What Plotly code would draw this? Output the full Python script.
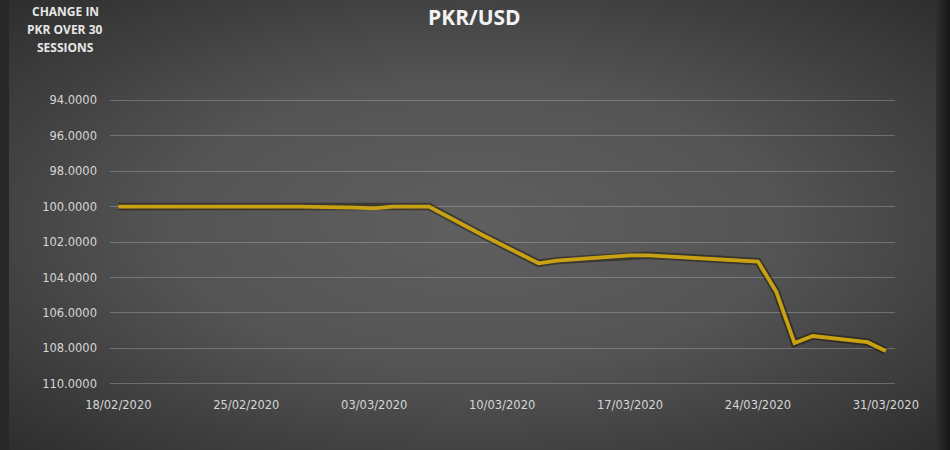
import base64
import plotly.graph_objects as go

# ---- data ----
session_dates = [
    "2020-02-18", "2020-02-19", "2020-02-20", "2020-02-21",
    "2020-02-24", "2020-02-25", "2020-02-26", "2020-02-27", "2020-02-28",
    "2020-03-02", "2020-03-03", "2020-03-04", "2020-03-05", "2020-03-06",
    "2020-03-09", "2020-03-10", "2020-03-11", "2020-03-12", "2020-03-13",
    "2020-03-16", "2020-03-17", "2020-03-18", "2020-03-19", "2020-03-20",
    "2020-03-24", "2020-03-25", "2020-03-26", "2020-03-27",
    "2020-03-30", "2020-03-31",
]
pkr_index = [
    100.00, 100.00, 100.00, 100.00,
    100.00, 100.00, 100.00, 100.00, 100.01,
    100.06, 100.10, 100.00, 100.00, 100.00,
    101.65, 102.15, 102.70, 103.20, 103.05,
    102.85, 102.75, 102.75, 102.80, 102.85,
    103.10, 104.80, 107.70, 107.30,
    107.65, 108.15,
]
x_tick_dates = ["2020-02-18", "2020-02-25", "2020-03-03", "2020-03-10",
                "2020-03-17", "2020-03-24", "2020-03-31"]
y_tick_values = [94, 96, 98, 100, 102, 104, 106, 108, 110]

title_text = "PKR/USD"
side_lines = ["CHANGE IN", "PKR OVER 30", "SESSIONS"]

# ---- layout geometry ----
W, H = 950, 450
ML, MR, MT, MB = 110, 55, 98, 64
PW, PH = W - ML - MR, H - MT - MB


def px_x(x):
    return (x - ML) / PW


def px_y(y):
    return (H - MB - y) / PH


svg = f'''<svg xmlns="http://www.w3.org/2000/svg" width="{W}" height="{H}" viewBox="0 0 {W} {H}" preserveAspectRatio="none">
<defs>
<radialGradient id="g" cx="50%" cy="50%" r="72%">
<stop offset="0" stop-color="#5f5f5f"/>
<stop offset="0.45" stop-color="#545454"/>
<stop offset="1" stop-color="#2c2c2c"/>
</radialGradient>
<linearGradient id="rr" x1="0" x2="1" y1="0" y2="0">
<stop offset="0" stop-color="#2e2e2e"/>
<stop offset="1" stop-color="#161616"/>
</linearGradient>
</defs>
<rect width="{W}" height="{H}" fill="url(#g)"/>
<rect x="0" y="0" width="9" height="{H}" fill="#282828"/>
<rect x="936" y="0" width="14" height="{H}" fill="url(#rr)"/>
</svg>'''
bg_src = "data:image/svg+xml;base64," + base64.b64encode(svg.encode()).decode()

fig = go.Figure()

# shadow under the line
fig.add_trace(go.Scatter(
    x=session_dates, y=pkr_index, mode="lines",
    line=dict(color="rgba(20,15,0,0.45)", width=7.5),
    hoverinfo="skip", showlegend=False,
))
fig.add_trace(go.Scatter(
    x=session_dates, y=pkr_index, mode="lines",
    line=dict(color="#c9a213", width=3.8),
    showlegend=False, name="PKR/USD",
))

annotations = [
    dict(text=f"<b>{title_text}</b>", xref="paper", yref="paper",
         x=px_x(474), y=px_y(1), xanchor="center", yanchor="top",
         showarrow=False,
         font=dict(family="Open Sans", size=21, color="#f2f2f2")),
]
for i, line in enumerate(side_lines):
    annotations.append(dict(
        text=f"<b>{line}</b>", xref="paper", yref="paper",
        x=px_x(65), y=px_y(11 + 18.5 * i), xanchor="center", yanchor="middle",
        showarrow=False,
        font=dict(family="Open Sans", size=12, color="#e6e6e6")))

fig.update_layout(
    width=W, height=H,
    margin=dict(l=ML, r=MR, t=MT, b=MB, pad=0),
    paper_bgcolor="rgba(0,0,0,0)",
    plot_bgcolor="rgba(0,0,0,0)",
    font=dict(family="DejaVu Sans", color="#d6d6d6", size=11),
    images=[dict(
        source=bg_src, xref="paper", yref="paper",
        x=px_x(0), y=px_y(0), sizex=W / PW, sizey=H / PH,
        xanchor="left", yanchor="top", sizing="stretch", layer="below",
    )],
    xaxis=dict(
        type="date",
        range=["2020-02-17 13:00", "2020-03-31 12:00"],
        tickvals=x_tick_dates,
        tickformat="%d/%m/%Y",
        showgrid=False, zeroline=False, showline=False,
        ticks="", ticklabelstandoff=10,
        tickfont=dict(family="DejaVu Sans", size=11.5, color="#d6d6d6"),
    ),
    yaxis=dict(
        range=[110.12, 93.88],
        tickvals=y_tick_values,
        tickformat=".4f",
        showgrid=True, gridcolor="rgba(200,200,200,0.33)", gridwidth=1,
        zeroline=False, showline=False, ticks="",
        ticklabelstandoff=12,
        tickfont=dict(family="DejaVu Sans", size=11.5, color="#d6d6d6"),
    ),
    annotations=annotations,
)

fig.write_html(
    "out.html",
    config={"displayModeBar": False},
    post_script="document.body.style.margin='0';document.body.style.background='#2c2c2c';",
)
